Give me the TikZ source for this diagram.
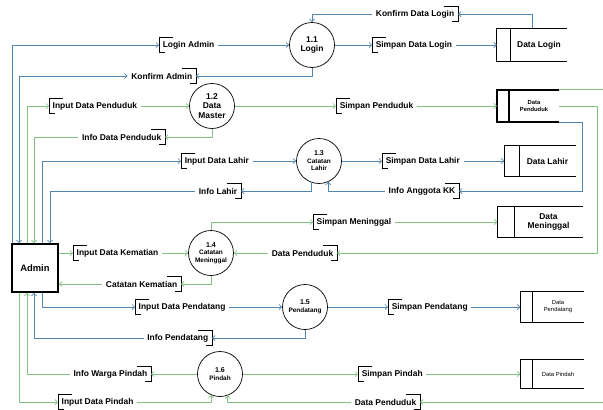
\documentclass[tikz,border=0pt]{standalone}
\usepackage{fontspec}
\setmainfont{Liberation Sans}
\usetikzlibrary{arrows.meta}
\definecolor{flowblue}{RGB}{84,134,178}
\definecolor{flowgreen}{RGB}{132,194,132}
\tikzset{store/.style 2 args={inner sep=0pt,append after command={\pgfextra{\draw[line width=#2] (\tikzlastnode.north east) -- (\tikzlastnode.north west) -- (\tikzlastnode.south west) -- (\tikzlastnode.south east) ([xshift=#1]\tikzlastnode.north west) -- ([xshift=#1]\tikzlastnode.south west);}}}}
\begin{document}
\begin{tikzpicture}[x=0.03cm,y=-0.03cm,>={Straight Barb[length=2.2pt,width=4.4pt]}]

\tikzstyle{fnt}=[font=\fontsize{7.2}{8.4}\selectfont\bfseries]
\tikzstyle{small}=[font=\fontsize{5.5}{6.4}\selectfont\bfseries]
\tikzstyle{lbl}=[fnt,inner xsep=3pt,inner ysep=0pt,minimum height=0.42cm]
\tikzstyle{lblL}=[lbl,anchor=west,append after command={\pgfextra{\draw[black,line width=0.5pt] (\tikzlastnode.north west) ++(14,0) -- (\tikzlastnode.north west) -- (\tikzlastnode.south west) -- ++(6,0);}}]
\tikzstyle{lblR}=[lbl,anchor=east,append after command={\pgfextra{\draw[black,line width=0.5pt] (\tikzlastnode.north east) ++(-14,0) -- (\tikzlastnode.north east) -- (\tikzlastnode.south east) -- ++(-6,0);}}]
\tikzstyle{proc}=[circle,draw,line width=0.6pt,minimum size=1.35cm,inner sep=0pt,align=center]
\tikzstyle{stxt}=[align=center,inner sep=0pt]
\tikzstyle{fb}=[draw=flowblue,line width=0.6pt]
\tikzstyle{fg}=[draw=flowgreen,line width=0.6pt]

\useasboundingbox (0,0) rectangle (603,409);
\clip (0,0) rectangle (603,409);

% entity
\node[draw,line width=1.4pt,minimum width=1.38cm,minimum height=1.44cm,font=\fontsize{8}{9}\selectfont\bfseries] (admin) at (35,268) {Admin};

% processes
\node[proc,fnt] (p11) at (312,45) {1.1\\Login};
\node[proc,fnt] (p12) at (212,106) {1.2\\Data\\Master};
\node[proc,small] (p13) at (319,161) {{\fontsize{6}{7}\selectfont 1.3}\\Catatan\\Lahir};
\node[proc,small] (p14) at (211,253) {{\fontsize{6}{7}\selectfont 1.4}\\Catatan\\Meninggal};
\node[proc,small] (p15) at (305,307) {{\fontsize{6}{7}\selectfont 1.5}\\Pendatang};
\node[proc,small] (p16) at (220,374) {{\fontsize{6}{7}\selectfont 1.6}\\Pindah};

% data stores
\node[store={0.42cm}{0.6pt},minimum width=2.1cm,minimum height=0.99cm,label={[stxt,fnt,xshift=0.21cm]center:Data Login}] (dlogin) at (532,45) {};
\node[store={0.36cm}{1.4pt},minimum width=1.86cm,minimum height=0.96cm,label={[stxt,font=\fontsize{5}{6}\selectfont\bfseries,xshift=0.18cm]center:Data\\Penduduk}] (dpend) at (528,106) {};
\node[store={0.45cm}{0.6pt},minimum width=2.13cm,minimum height=0.93cm,label={[stxt,fnt,xshift=0.225cm]center:Data Lahir}] (dlahir) at (540,161) {};
\node[store={0.51cm}{0.6pt},minimum width=2.55cm,minimum height=0.9cm,label={[stxt,fnt,xshift=0.255cm]center:Data\\Meninggal}] (dmen) at (540,222) {};
\node[store={0.36cm}{0.6pt},minimum width=1.89cm,minimum height=0.9cm,label={[stxt,font=\fontsize{5}{6}\selectfont,xshift=0.18cm]center:Data\\Pendatang}] (dpdt) at (552,307) {};
\node[store={0.36cm}{0.6pt},minimum width=1.89cm,minimum height=0.87cm,label={[stxt,font=\fontsize{5}{6}\selectfont,xshift=0.18cm]center:Data Pindah}] (dpdh) at (552,374) {};

% flow labels
\node[lblR] (lKonfDL) at (458,14) {Konfirm Data Login};
\node[lblL] (lLogAdm) at (159,45) {Login Admin};
\node[lblL] (lSimpDLg) at (372,45) {Simpan Data Login};
\node[lblR] (lKonfAdm) at (196,76) {Konfirm Admin};
\node[lblL] (lInDP) at (49,106) {Input Data Penduduk};
\node[lblL] (lSimpP) at (336,106) {Simpan Penduduk};
\node[lblR] (lInfoDP) at (165,137) {Info Data Penduduk};
\node[lblL] (lInDL) at (181,161) {Input Data Lahir};
\node[lblL] (lSimpDL) at (382,161) {Simpan Data Lahir};
\node[lblR] (lInfoL) at (241,191) {Info Lahir};
\node[lblR] (lInfoKK) at (459,191) {Info Anggota KK};
\node[lblL] (lSimpM) at (313,222) {Simpan Meninggal};
\node[lblL] (lInDK) at (73,253) {Input Data Kematian};
\node[lblR] (lDP14) at (337,253) {Data Penduduk};
\node[lblR] (lCatK) at (181,284) {Catatan Kematian};
\node[lblL] (lInPdt) at (135,307) {Input Data Pendatang};
\node[lblL] (lSimpPdt) at (388,307) {Simpan Pendatang};
\node[lblR] (lInfoPdt) at (212,338) {Info Pendatang};
\node[lblR] (lInfoWP) at (151,374) {Info Warga Pindah};
\node[lblL] (lSimpPdh) at (358,374) {Simpan Pindah};
\node[lblL] (lInPdh) at (58,402) {Input Data Pindah};
\node[lblR] (lDP16) at (420,402) {Data Penduduk};

% login flows
\draw[fb,->] (12,0 |- admin.north) |- (lLogAdm.west);
\draw[fb,->] (lLogAdm.east) -- (lLogAdm.east -| p11.west);
\draw[fb,->] (p11.south) |- (lKonfAdm.east);
\draw[fb,<->] (19,0 |- admin.north) |- (lKonfAdm.west);
\draw[fb,->] (p11.east) -- (p11.east -| lSimpDLg.west);
\draw[fb,->] (lSimpDLg.east) -- (lSimpDLg.east -| dlogin.west);
\draw[fb,->] (dlogin.north) |- (lKonfDL.east);
\draw[fb,->] (lKonfDL.west) -| (p11.north);

% data master flows
\draw[fg,->] (27,0 |- admin.north) |- (lInDP.west);
\draw[fg,->] (lInDP.east) -- (lInDP.east -| p12.west);
\draw[fg,->] (p12.south) |- (lInfoDP.east);
\draw[fg,->] (lInfoDP.west) -| (34,0 |- admin.north);
\draw[fg,->] (p12.east) -- (p12.east -| lSimpP.west);
\draw[fg,->] (lSimpP.east) -- (lSimpP.east -| dpend.west);

% lahir flows
\draw[fb,->] (42,0 |- admin.north) |- (lInDL.west);
\draw[fb,->] (lInDL.east) -- (lInDL.east -| p13.west);
\draw[fb,->] (p13.250) |- (lInfoL.east);
\draw[fb,->] (lInfoL.west) -| (50,0 |- admin.north);
\draw[fb,->] (p13.east) -- (p13.east -| lSimpDL.west);
\draw[fb,->] (lSimpDL.east) -- (lSimpDL.east -| dlahir.west);
\draw[fb,->] (dpend.south east) -- ++(23,0) |- (lInfoKK.east);
\draw[fb,->] (lInfoKK.west) -| (p13.294);

% meninggal flows
\draw[fg,->] (admin.east |- lInDK.west) -- (lInDK.west);
\draw[fg,->] (lInDK.east) -- (lInDK.east -| p14.west);
\draw[fg,->] (p14.north) |- (lSimpM.west);
\draw[fg,->] (lSimpM.east) -- (lSimpM.east -| dmen.west);
\draw[fg,->] (dpend.east) -- ++(38,0) |- (lDP14.east);
\draw[fg,->] (lDP14.west) -- (lDP14.west -| p14.east);
\draw[fg,->] (p14.south) |- (lCatK.east);
\draw[fg,->] (lCatK.west) -- (lCatK.west -| admin.east);

% pendatang flows
\draw[fb,->] (42,0 |- admin.south) |- (lInPdt.west);
\draw[fb,->] (lInPdt.east) -- (lInPdt.east -| p15.west);
\draw[fb,->] (p15.south) |- (lInfoPdt.east);
\draw[fb,->] (lInfoPdt.west) -| (34,0 |- admin.south);
\draw[fb,->] (p15.east) -- (p15.east -| lSimpPdt.west);
\draw[fb,->] (lSimpPdt.east) -- (lSimpPdt.east -| dpdt.west);

% pindah flows
\draw[fg,->] (p16.west) -- (p16.west -| lInfoWP.east);
\draw[fg,->] (lInfoWP.west) -| (27,0 |- admin.south);
\draw[fg,->] (p16.east) -- (p16.east -| lSimpPdh.west);
\draw[fg,->] (lSimpPdh.east) -- (lSimpPdh.east -| dpdh.west);
\draw[fg,->] (19,0 |- admin.south) |- (lInPdh.west);
\draw[fg,->] (lInPdh.east) -| (p16.247);
\draw[fg,->] (dpend.north east) -- ++(60,0) |- (lDP16.east);
\draw[fg,->] (lDP16.west) -| (p16.290);

\end{tikzpicture}
\end{document}
